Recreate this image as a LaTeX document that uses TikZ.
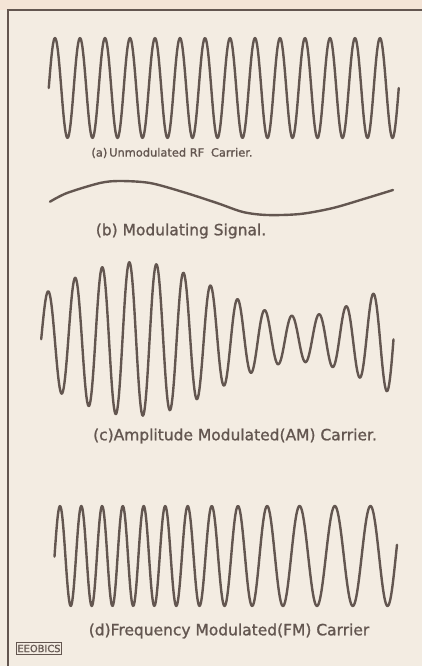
\documentclass[tikz,border=0pt]{standalone}
\usepackage{fontspec}
\setmainfont{DejaVu Sans}
\newfontfamily\capfont{DejaVu Sans}[FakeBold=1.2]
\definecolor{paper}{HTML}{F3ECE2}
\definecolor{topband}{HTML}{F4E4D6}
\definecolor{ink}{HTML}{635650}
\begin{document}
\begin{tikzpicture}[x=0.025cm, y=-0.025cm,
    wave/.style={draw=ink, line width=1.7pt, line join=round, line cap=round},
    caption/.style={text=ink, inner sep=0pt, font=\capfont\fontsize{11}{13}\selectfont}]
\fill[paper] (0,0) rectangle (422,666);
\fill[topband] (0,0) rectangle (422,10);
\useasboundingbox (0,0) rectangle (422,666);
\draw[ink, line width=0.9pt] (8,666) -- (8,10) -- (422,10);

% (a) plain carrier
\draw[wave] plot[domain=48.75:398.75, samples=500] (\x, {88 - 50*cos(14.4*(\x-55))});
\node[caption, font=\capfont\fontsize{8.1}{10}\selectfont] (capA) at (172,153) {(a)\,Unmodulated RF\; Carrier.};

% (b) modulating signal
\draw[wave] plot[smooth] coordinates {(50,201.7) (67,193) (100,183) (120,181) (150,183) (183,192)
    (217,203) (243,212) (267,215) (300,214) (333,208) (367,198) (393,190)};
\node[caption] (capB) at (181,231) {(b) Modulating Signal.};

% (c) AM
\draw[wave] plot[domain=41.2:393.5, samples=500]
    (\x, {339 - (50+27*cos(1.0909*(\x-135)))*cos(13.284*(\x-48))});
\node[caption] (capC) at (235,436) {(c)Amplitude Modulated(AM) Carrier.};

% (d) FM
\draw[wave] plot[domain=54.5:397, samples=600]
    (\x, {556 - 50*cos(13.716*(\x-60) + 271.44*sin(0.78261*(\x-110)) + 171.36)});
\node[caption] (capD) at (229,631) {(d)Frequency Modulated(FM) Carrier};

\node[draw=ink, line width=0.8pt, inner xsep=1pt, inner ysep=1.5pt, text=ink,
      font=\capfont\fontsize{7}{8}\selectfont] (logo) at (39,648.5) {EEOBICS};
\end{tikzpicture}
\end{document}
